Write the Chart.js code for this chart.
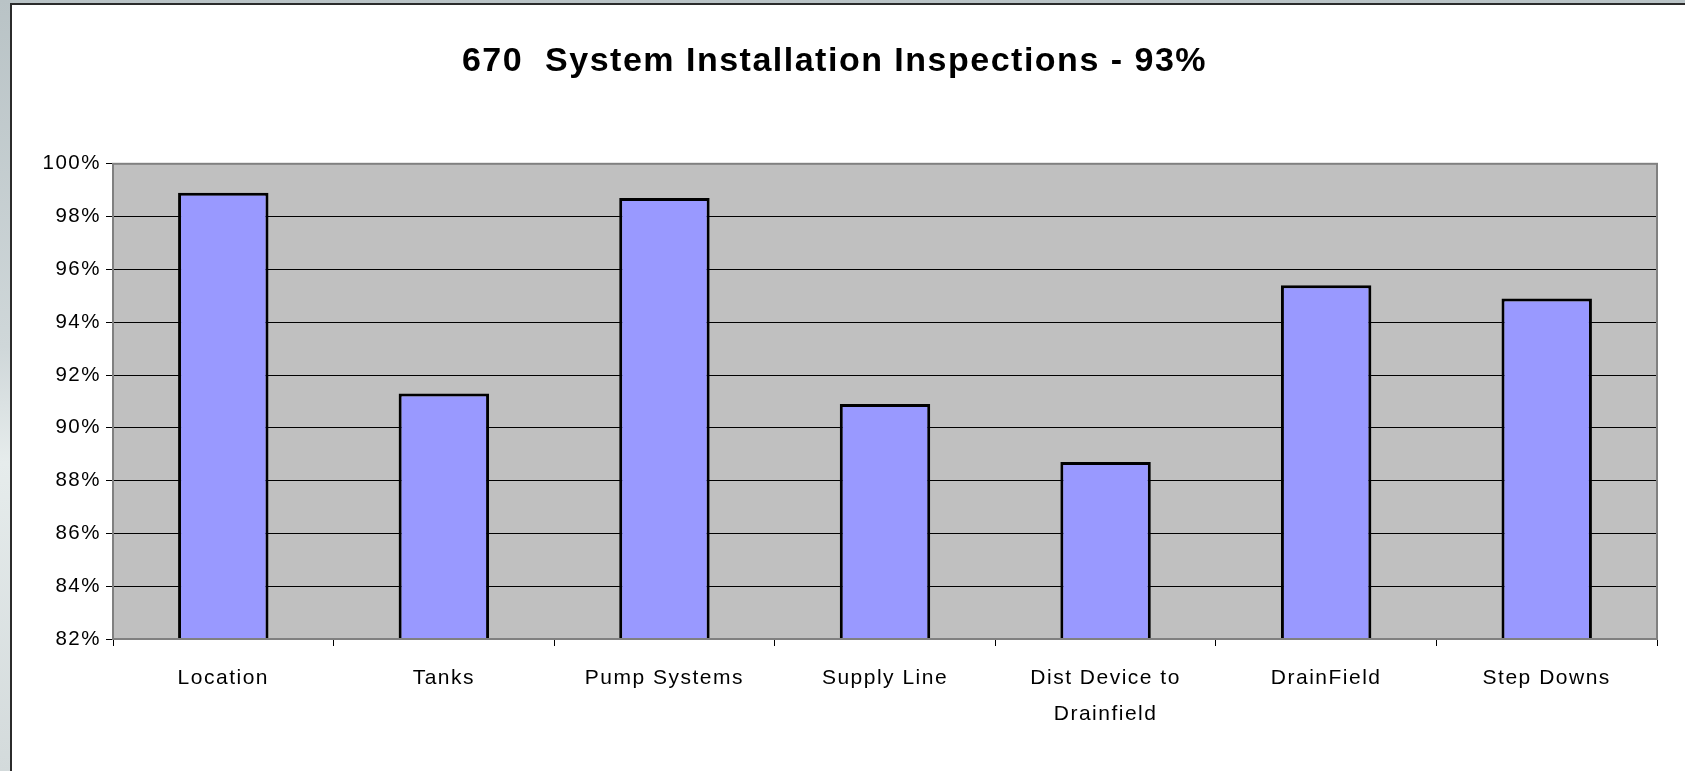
<!DOCTYPE html>
<html>
<head>
<meta charset="utf-8">
<script src="https://cdn.jsdelivr.net/npm/chart.js@4"></script>
<style>
    html, body { margin: 0; padding: 0; }
    body {
        width: 1685px; height: 771px; overflow: hidden;
        background: linear-gradient(to bottom, #b9c3c6 0%, #cfd7d9 45%, #e6ecec 60%, #d3dadb 100%);
        position: relative;
    }
    #frame {
        position: absolute; left: 10px; top: 3px; width: 1675px; height: 768px;
        background: #ffffff;
        border-left: 2px solid #2b2b2b; border-top: 2px solid #2b2b2b;
        box-sizing: border-box;
    }
    #chart { display: block; }
</style>
</head>
<body>
<div id="frame"><canvas id="chart" width="1673" height="766"></canvas></div>
<script>
const categories = ['Location', 'Tanks', 'Pump Systems', 'Supply Line', ['Dist Device to', 'Drainfield'], 'DrainField', 'Step Downs'];
const passRate = [98.9, 91.3, 98.7, 90.9, 88.7, 95.4, 94.9];
const yMin = 82;
const yMax = 100;
const yStep = 2;

// fond gris et cadre de la zone de tracé
const plotArea = {
    id: 'plotArea',
    beforeDraw(chart) {
        const a = chart.chartArea, ctx = chart.ctx;
        ctx.letterSpacing = '1.5px';
        ctx.save();
        ctx.fillStyle = '#c0c0c0';
        ctx.fillRect(a.left, a.top, a.right - a.left, a.bottom - a.top);
        ctx.restore();
    },
    afterDraw(chart) {
        const a = chart.chartArea, ctx = chart.ctx;
        ctx.save();
        ctx.strokeStyle = '#808080';
        ctx.lineWidth = 2;
        ctx.strokeRect(a.left, a.top, a.right - a.left, a.bottom - a.top);
        ctx.restore();
    }
};

document.addEventListener('DOMContentLoaded', function () {
    const ctx = document.getElementById('chart').getContext('2d');
    new Chart(ctx, {
        type: 'bar',
        data: {
            labels: categories,
            datasets: [{
                data: passRate,
                backgroundColor: '#9999ff',
                borderColor: '#000000',
                borderWidth: 3,
                barPercentage: 0.41,
                categoryPercentage: 1
            }]
        },
        options: {
            responsive: false,
            animation: false,
            layout: { padding: { left: 0, right: 28, top: 0, bottom: 0 } },
            scales: {
                x: {
                    grid: { display: true, drawOnChartArea: false, drawTicks: true, tickLength: 7, color: '#000000', offset: true },
                    border: { display: false },
                    ticks: {
                        color: '#000000',
                        padding: 14,
                        maxRotation: 0,
                        autoSkip: false,
                        font: { family: '"Liberation Sans", Arial, sans-serif', size: 21, lineHeight: 1.72 }
                    },
                    afterFit: function (scale) { scale.height = 132; }
                },
                y: {
                    min: yMin,
                    max: yMax,
                    grid: { color: '#000000', lineWidth: 1, tickLength: 7, drawTicks: true },
                    border: { display: false },
                    ticks: {
                        stepSize: yStep,
                        color: '#000000',
                        padding: 5,
                        font: { family: '"Liberation Sans", Arial, sans-serif', size: 20.5 },
                        callback: function (value) { return value + '%'; }
                    },
                    afterFit: function (scale) { scale.width = 101; }
                }
            },
            plugins: {
                legend: { display: false },
                tooltip: { enabled: false },
                title: {
                    display: true,
                    text: '670  System Installation Inspections - 93%',
                    color: '#000000',
                    font: { family: '"Liberation Sans", Arial, sans-serif', size: 34, weight: 'bold', lineHeight: 1.2 },
                    padding: { top: 36, bottom: 82 }
                }
            }
        },
        plugins: [plotArea]
    });
});
</script>
</body>
</html>
